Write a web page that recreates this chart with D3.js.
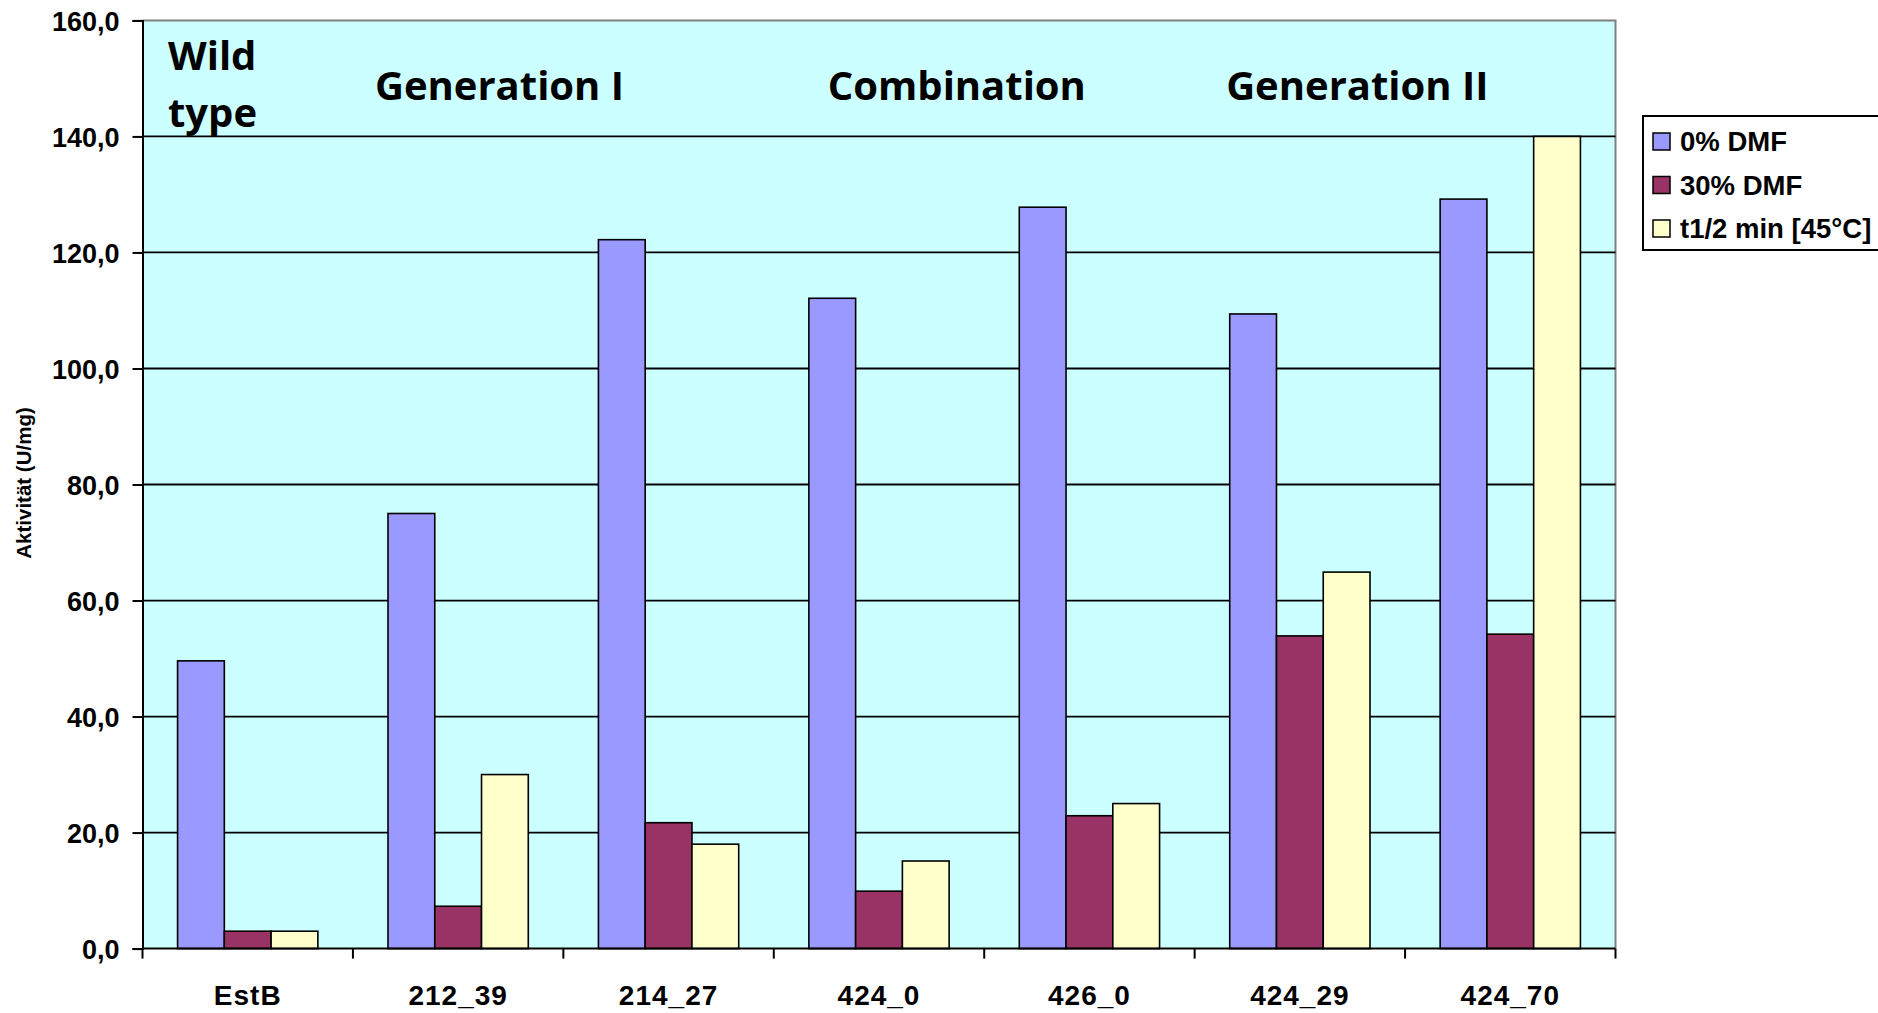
<!DOCTYPE html>
<html>
<head>
<meta charset="utf-8">
<script src="https://cdn.jsdelivr.net/npm/d3@7"></script>
<style>
  html, body { margin: 0; padding: 0; background: #ffffff; }
  svg { display: block; }
  text { font-family: "Liberation Sans", Arial, sans-serif; font-weight: bold; fill: #000; }
  .note { font-family: "Open Sans", sans-serif; font-weight: 700; }
</style>
</head>
<body>
<svg id="chart" width="1878" height="1013"></svg>
<script>
// Enzyme variants and their measured values
const categories = ["EstB", "212_39", "214_27", "424_0", "426_0", "424_29", "424_70"];
const seriesNames = ["0% DMF", "30% DMF", "t1/2 min [45°C]"];
const dmf0 = [49.6, 75.0, 122.2, 112.1, 127.8, 109.4, 129.2];
const dmf30 = [3.0, 7.3, 21.7, 9.9, 22.9, 53.9, 54.2];
const halfLife = [3.0, 30.0, 18.0, 15.1, 25.0, 64.9, 140.0];
const yTicks = [0, 20, 40, 60, 80, 100, 120, 140, 160];
const seriesColors = ["#9999FF", "#993366", "#FFFFCC"];
// Group headings over the plot, each tied to the first category of its group
const groupNotes = [
  { lines: ["Wild", "type"], category: "EstB" },
  { lines: ["Generation I"], category: "212_39" },
  { lines: ["Combination"], category: "424_0" },
  { lines: ["Generation II"], category: "424_29" }
];

const series = [dmf0, dmf30, halfLife];

const svg = d3.select("#chart");
const plot = { left: 142.5, right: 1615.5, top: 20.4, bottom: 948.6 };

const x0 = d3.scaleBand().domain(categories).range([plot.left, plot.right]).padding(0);
const catW = x0.bandwidth();
const gap = catW * 1.5 / 4.5; // gap width of 150% between groups
const x1 = d3.scaleBand().domain(d3.range(series.length)).range([gap / 2, catW - gap / 2]).padding(0);
const y = d3.scaleLinear().domain([0, 160]).range([plot.bottom, plot.top]);

// Plot background
svg.append("rect")
  .attr("x", plot.left).attr("y", plot.top)
  .attr("width", plot.right - plot.left).attr("height", plot.bottom - plot.top)
  .attr("fill", "#CCFFFF");

// Top and right frame
svg.append("path")
  .attr("d", `M${plot.left},${plot.top}H${plot.right}V${plot.bottom}`)
  .attr("fill", "none").attr("stroke", "#808080").attr("stroke-width", 2);

// Horizontal gridlines
svg.append("g")
  .selectAll("line")
  .data(yTicks.filter(v => v > 0 && v < 160))
  .join("line")
  .attr("x1", plot.left).attr("x2", plot.right)
  .attr("y1", d => y(d)).attr("y2", d => y(d))
  .attr("stroke", "#000").attr("stroke-width", 1.8);

// Bars
const groups = svg.append("g")
  .selectAll("g")
  .data(categories)
  .join("g")
  .attr("transform", d => `translate(${x0(d)},0)`);

groups.selectAll("rect")
  .data((d, i) => series.map((s, k) => ({ k, v: s[i] })))
  .join("rect")
  .attr("x", d => x1(d.k))
  .attr("width", x1.bandwidth())
  .attr("y", d => y(d.v))
  .attr("height", d => y(0) - y(d.v))
  .attr("fill", d => seriesColors[d.k])
  .attr("stroke", "#000")
  .attr("stroke-width", 1.6);

// Y axis
const yAxis = d3.axisLeft(y)
  .tickValues(yTicks)
  .tickSize(10)
  .tickPadding(13)
  .tickFormat(d => d3.format(".1f")(d).replace(".", ","));
const gy = svg.append("g")
  .attr("transform", `translate(${plot.left},0)`)
  .call(yAxis);
gy.select(".domain").attr("stroke", "#000").attr("stroke-width", 2);
gy.selectAll(".tick line").attr("stroke", "#000").attr("stroke-width", 2);
gy.selectAll(".tick text")
  .attr("font-size", 27).attr("font-family", "Liberation Sans, Arial, sans-serif")
  .attr("font-weight", "bold").attr("dy", "0.36em");

// X axis: ticks at category boundaries, labels centred in each category
const gx = svg.append("g")
  .attr("transform", `translate(0,${plot.bottom})`);
gx.append("line")
  .attr("x1", plot.left).attr("x2", plot.right)
  .attr("stroke", "#000").attr("stroke-width", 2);
const boundaries = categories.map(c => x0(c)).concat([plot.right]);
gx.selectAll("line.tick")
  .data(boundaries)
  .join("line")
  .attr("class", "tick")
  .attr("x1", d => d).attr("x2", d => d)
  .attr("y1", 0).attr("y2", 10)
  .attr("stroke", "#000").attr("stroke-width", 2);
gx.selectAll("text")
  .data(categories)
  .join("text")
  .attr("x", d => x0(d) + catW / 2)
  .attr("y", 56.5)
  .attr("text-anchor", "middle")
  .attr("font-size", 28)
  .attr("letter-spacing", 1)
  .text(d => d);

// Y axis title
svg.append("text")
  .attr("transform", `translate(31,483) rotate(-90)`)
  .attr("text-anchor", "middle")
  .attr("font-size", 20.5)
  .text("Aktivität (U/mg)");

// Group headings, left-aligned at an inset from their category
const noteInset = { "EstB": 25.5, "212_39": 22, "424_0": 54, "424_29": 31.5 };
groupNotes.forEach(n => {
  const lx = x0(n.category) + noteInset[n.category];
  const t = svg.append("text")
    .attr("class", "note")
    .attr("x", lx)
    .attr("y", n.lines.length > 1 ? 70 : 100)
    .attr("text-anchor", "start")
    .attr("font-size", 40);
  n.lines.forEach((line, i) => {
    t.append("tspan").attr("x", lx).attr("dy", i === 0 ? 0 : 57).text(line);
  });
});

// Legend
const legend = svg.append("g").attr("transform", "translate(1643,116)");
legend.append("rect")
  .attr("x", 0).attr("y", 0).attr("width", 260).attr("height", 134)
  .attr("fill", "#fff").attr("stroke", "#000").attr("stroke-width", 2);
const items = legend.selectAll("g.item")
  .data(seriesNames)
  .join("g")
  .attr("class", "item")
  .attr("transform", (d, i) => `translate(10,${17 + i * 43.5})`);
items.append("rect")
  .attr("width", 17).attr("height", 17)
  .attr("fill", (d, i) => seriesColors[i])
  .attr("stroke", "#000").attr("stroke-width", 1.5);
items.append("text")
  .attr("x", 27).attr("y", 18)
  .attr("font-size", 27.5)
  .text(d => d);
</script>
</body>
</html>
